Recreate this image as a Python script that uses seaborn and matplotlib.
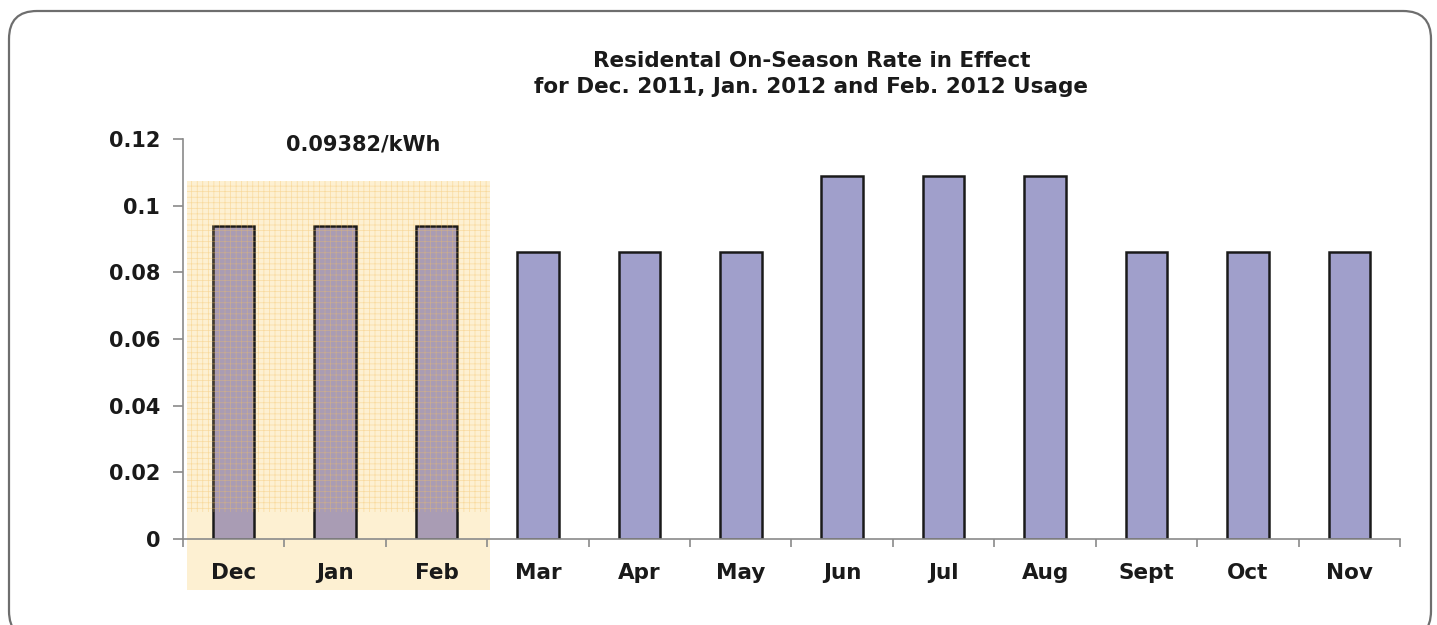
import matplotlib
matplotlib.use('Agg')
import matplotlib.pyplot as plt
from matplotlib.patches import Rectangle, FancyBboxPatch
import seaborn as sns
import numpy as np
import pandas as pd

# Данные: тариф по месяцам
months = ['Dec', 'Jan', 'Feb', 'Mar', 'Apr', 'May', 'Jun', 'Jul', 'Aug', 'Sept', 'Oct', 'Nov']
rates = [0.09382, 0.09382, 0.09382, 0.086, 0.086, 0.086, 0.109, 0.109, 0.109, 0.086, 0.086, 0.086]
highlighted = ['Dec', 'Jan', 'Feb']
rate_label = '0.09382/kWh'
title = 'Residental On-Season Rate in Effect\nfor Dec. 2011, Jan. 2012 and Feb. 2012 Usage'

df = pd.DataFrame({'Month': months, 'Rate': rates})

sns.set_style('white')
plt.rcParams['font.family'] = ['DejaVu Sans']
plt.rcParams['hatch.linewidth'] = 0.5

fig = plt.figure(figsize=(14.37, 6.25), dpi=100)

# рамка со скруглёнными углами
bg = fig.add_axes([0, 0, 1, 1], zorder=-1)
bg.set_xlim(0, 1437)
bg.set_ylim(625, 0)
bg.axis('off')
bg.add_patch(FancyBboxPatch((9, 11), 1422, 628, boxstyle='round,pad=0,rounding_size=28',
                            facecolor='white', edgecolor='#6e6e6e', linewidth=1.6))

ax = fig.add_axes([0.1273, 0.1376, 0.847, 0.640])
ax.patch.set_alpha(0)

sns.barplot(x='Month', y='Rate', data=df, color='#a09fcb', width=0.41,
            edgecolor='#1a1a1a', linewidth=1.8, saturation=1, ax=ax, zorder=3)
n_hi = len(highlighted)
for p in ax.patches[:n_hi]:
    p.set_facecolor('#a99cb4')

# подсветка зимних месяцев
ax.add_patch(Rectangle((-0.46, -0.0153), 2.99, 0.1227, facecolor='#fdf0d2',
                       edgecolor='none', clip_on=False, zorder=0.2))
ax.add_patch(Rectangle((-0.46, 0.008), 2.99, 0.0994, facecolor='none',
                       edgecolor='#f4c060', linewidth=0, hatch='+++', alpha=0.45,
                       clip_on=False, zorder=4))

ax.text(1.28, 0.1182, rate_label, ha='center', va='center', fontsize=15,
        fontweight='bold', color='#1a1a1a')

ax.set_xlim(-0.5, 11.5)
ax.set_ylim(0, 0.12)
ax.set_yticks(np.arange(0, 0.121, 0.02))
ax.set_yticklabels(['0', '0.02', '0.04', '0.06', '0.08', '0.1', '0.12'])
ax.set_xticks(np.arange(-0.5, 12, 1), minor=True)
ax.tick_params(bottom=True, left=True, which='both')
ax.tick_params(axis='x', which='major', length=0, pad=17, labelsize=15.5)
ax.tick_params(axis='x', which='minor', length=6, direction='out', color='#8a8a8a', width=1.2)
ax.tick_params(axis='y', length=7, direction='out', color='#8a8a8a', width=1.2, pad=9.5, labelsize=15)
for lbl in ax.get_xticklabels() + ax.get_yticklabels():
    lbl.set_fontweight('bold')
    lbl.set_color('#1a1a1a')
ax.set_xlabel('')
ax.set_ylabel('')

for s in ['top', 'right']:
    ax.spines[s].set_visible(False)
ax.spines['left'].set_color('#8a8a8a')
ax.spines['bottom'].set_color('#8a8a8a')
ax.spines['left'].set_linewidth(1.2)
ax.spines['bottom'].set_linewidth(1.2)
ax.spines['left'].set_zorder(5)
ax.spines['bottom'].set_zorder(5)

fig.text(0.5646, 0.882, title, ha='center', va='center', fontsize=15.5,
         fontweight='bold', color='#1a1a1a', linespacing=1.4)

fig.savefig('out.png', dpi=100)
